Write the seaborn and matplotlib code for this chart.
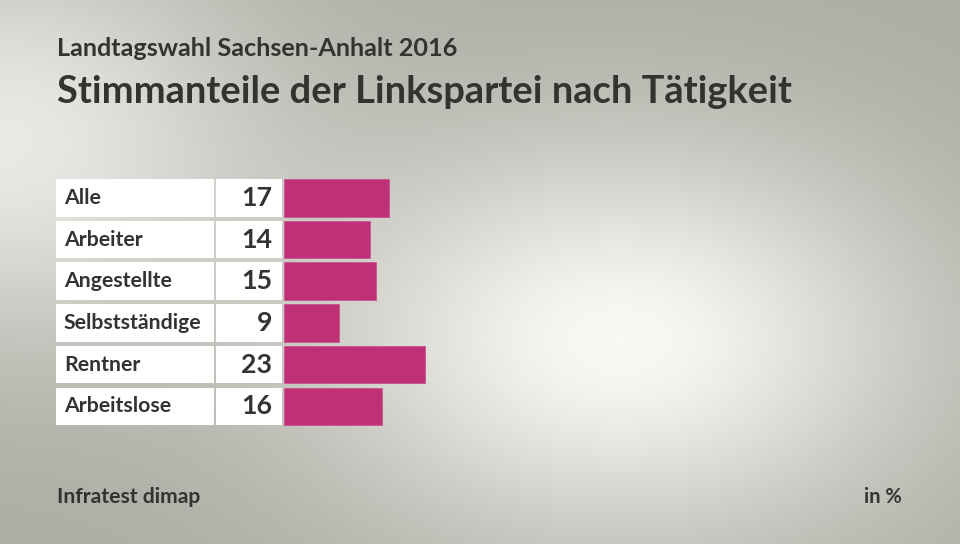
import numpy as np
import matplotlib.pyplot as plt
import seaborn as sns
from matplotlib.patches import Rectangle

# Daten
kategorien = ['Alle', 'Arbeiter', 'Angestellte', 'Selbstständige', 'Rentner', 'Arbeitslose']
werte = [17, 14, 15, 9, 23, 16]

titel = 'Stimmanteile der Linkspartei nach Tätigkeit'
untertitel = 'Landtagswahl Sachsen-Anhalt 2016'
quelle = 'Infratest dimap'
einheit = 'in %'

BALKEN_FARBE = '#bf3076'
TEXT_FARBE = '#333331'

W, H = 960, 544
PX_PRO_EINHEIT = 6.15
NULL_PX = 284           # x-Pixel, an dem die Balken beginnen
AX_LINKS, AX_RECHTS = 56, 520
AX_OBEN, AX_UNTEN = 177, 427.2

sns.set_theme(style='white')
plt.rcParams['font.family'] = ['Lato', 'DejaVu Sans']

fig = plt.figure(figsize=(W / 100, H / 100), dpi=100)

# Hintergrund: grauer Verlauf mit hellem Fleck
yy, xx = np.mgrid[0:H, 0:W]
hell = np.exp(-(((xx - 620) / 300) ** 2 + ((yy - 340) / 200) ** 2))
hell2 = np.exp(-(((xx - 0) / 260) ** 2 + ((yy - 140) / 200) ** 2))
hell = np.clip(hell + 0.8 * hell2, 0, 1)
grau = np.array([174, 173, 165]) / 255
weiss = np.array([248, 248, 244]) / 255
bild = grau + (weiss - grau) * hell[..., None]
bg = fig.add_axes([0, 0, 1, 1])
bg.imshow(bild, aspect='auto', extent=(0, W, H, 0))
bg.set_axis_off()

ax = fig.add_axes([AX_LINKS / W, 1 - AX_UNTEN / H,
                   (AX_RECHTS - AX_LINKS) / W, (AX_UNTEN - AX_OBEN) / H])
ax.patch.set_alpha(0)

def px(x):
    return (x - NULL_PX) / PX_PRO_EINHEIT

sns.barplot(x=werte, y=kategorien, orient='h', color=BALKEN_FARBE,
            width=0.9, saturation=1, ax=ax, edgecolor='#c95590', linewidth=0.6)

for i, (k, v) in enumerate(zip(kategorien, werte)):
    ax.add_patch(Rectangle((px(56), i - 0.45), px(214) - px(56), 0.9,
                           facecolor='white', edgecolor='none', zorder=0))
    ax.add_patch(Rectangle((px(216), i - 0.45), px(282) - px(216), 0.9,
                           facecolor='white', edgecolor='none', zorder=0))
    ax.text(px(64), i, k, ha='left', va='center', fontsize=15.3,
            fontweight='bold', color=TEXT_FARBE)
    ax.text(px(272), i, str(v), ha='right', va='center', fontsize=19.3,
            fontweight='bold', color=TEXT_FARBE)

ax.set_xlim(px(AX_LINKS), px(AX_RECHTS))
ax.set_ylim(len(kategorien) - 0.5, -0.5)
ax.set_axis_off()

fig.text(57 / W, 1 - 48 / H, untertitel, ha='left', va='center',
         fontsize=18.2, fontweight='bold', color=TEXT_FARBE)
fig.text(57 / W, 1 - 92 / H, titel, ha='left', va='center',
         fontsize=27.4, fontweight='bold', color=TEXT_FARBE)
fig.text(57 / W, 1 - 497 / H, quelle, ha='left', va='center',
         fontsize=15.2, fontweight='bold', color=TEXT_FARBE)
fig.text(902 / W, 1 - 497 / H, einheit, ha='right', va='center',
         fontsize=14.5, fontweight='bold', color=TEXT_FARBE)

fig.savefig('out.png', dpi=100)
